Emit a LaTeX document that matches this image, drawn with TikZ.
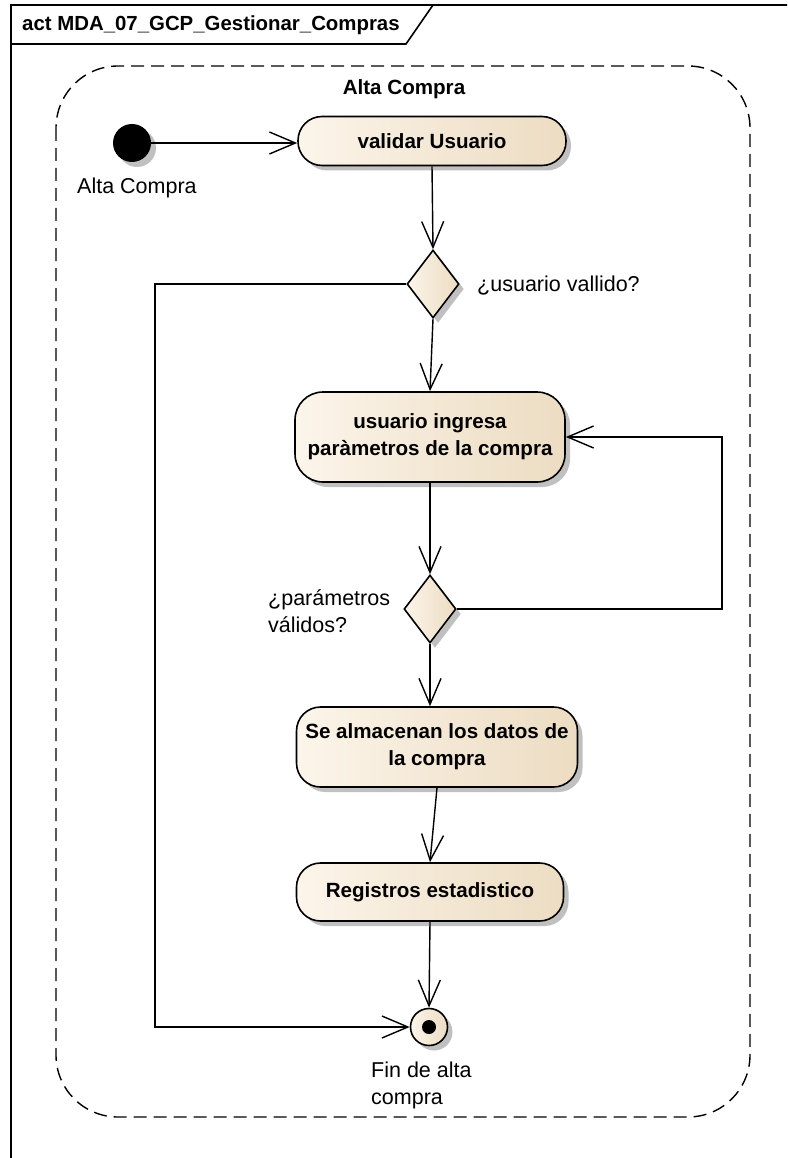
\documentclass[tikz,border=0pt]{standalone}
\usepackage{fontspec}
\setmainfont{Liberation Sans}
\usetikzlibrary{shapes.geometric, arrows.meta, positioning, shadows}
\definecolor{ActividadClaro}{RGB}{252,245,234}
\definecolor{ActividadOscuro}{RGB}{236,220,194}
\definecolor{SombraGris}{RGB}{192,192,192}

\tikzset{
  sombra/.style={drop shadow={shadow xshift=5pt, shadow yshift=-5pt, fill=SombraGris, opacity=1}},
  actividad/.style={draw=black, line width=1.6pt, rounded corners=24pt, left color=ActividadClaro, right color=ActividadOscuro, sombra, align=center, inner sep=0pt, font=\fontsize{20.6}{27}\selectfont\bfseries},
  decision/.style={diamond, draw=black, line width=1.6pt, left color=ActividadClaro, right color=ActividadOscuro, sombra, inner sep=0pt, minimum width=52pt, minimum height=68pt},
  etiqueta/.style={font=\fontsize{21.5}{27}\selectfont, align=left, inner sep=0pt},
  flujo/.style={line width=1.4pt, -{Straight Barb[length=26pt, width=22pt]}},
}

\begin{document}
\begin{tikzpicture}[x=1pt, y=-1pt]
  \useasboundingbox (0,0) rectangle (787,1158);
  \clip (0,0) rectangle (787,1158);
  \fill[white] (0,0) rectangle (787,1158);

  % marco del diagrama
  \draw[line width=2pt] (800,5) -- (11,5) -- (11,1170);
  \draw[line width=1.6pt] (11,44) -- (406,44) -- (433,5);
  \node[anchor=west, inner sep=0pt, font=\fontsize{20.4}{24}\selectfont\bfseries] (titulo) at (22,25) {act MDA\_07\_GCP\_Gestionar\_Compras};

  % region de actividad
  \draw[line width=1.4pt, dash pattern=on 13pt off 7pt, rounded corners=62pt] (56,66) rectangle (750,1117);
  \node[inner sep=0pt, font=\fontsize{20.6}{24}\selectfont\bfseries] (region) at (404,89) {Alta Compra};

  % nodos
  \node[circle, fill=black, minimum size=38pt, inner sep=0pt, sombra] (inicio) at (132,143) {};
  \node[etiqueta, anchor=west] (inicioLbl) at (77,188) {Alta Compra};
  \node[actividad, minimum width=268pt, minimum height=49pt] (validar) at (432,141) {validar Usuario};
  \node[decision] (dec1) at (433,284) {};
  \node[etiqueta, anchor=west] (dec1Lbl) at (477,286) {¿usuario vallido?};
  \node[actividad, minimum width=270pt, minimum height=90pt, rounded corners=28pt] (ingresa) at (430,437) {usuario ingresa\\paràmetros de la compra};
  \node[decision] (dec2) at (430,609) {};
  \node[etiqueta, anchor=west] (dec2Lbl) at (268,611) {¿parámetros\\válidos?};
  \node[actividad, minimum width=281pt, minimum height=80pt] (almacenan) at (437,747) {Se almacenan los datos de\\la compra};
  \node[actividad, minimum width=267pt, minimum height=58pt] (registros) at (430,892) {Registros estadistico};
  \node[circle, draw=black, line width=1.6pt, left color=ActividadClaro, right color=ActividadOscuro, minimum size=37pt, inner sep=0pt, sombra] (fin) at (429,1027) {};
  \node[circle, fill=black, minimum size=14pt, inner sep=0pt] (finPunto) at (fin.center) {};
  \node[etiqueta, anchor=north west] (finLbl) at (371,1062) {Fin de alta\\compra};

  \coordinate (desvio) at (155,284);
  \coordinate (retorno) at (722,609);

  % flujos
  \draw[flujo] (inicio.east) -- (inicio.east -| validar.west);
  \draw[flujo] (validar.south) -- (dec1.north);
  \draw[flujo] (dec1.west) -- (desvio) |- (fin.west);
  \draw[flujo] (dec1.south) -- (ingresa.north);
  \draw[flujo] (ingresa.south) -- (dec2.north);
  \draw[flujo] (dec2.east) -- (retorno) |- (ingresa.east);
  \draw[flujo] (dec2.south) -- (dec2.south |- almacenan.north);
  \draw[flujo] (almacenan.south) -- (registros.north);
  \draw[flujo] (registros.south) -- (fin.north);
\end{tikzpicture}
\end{document}
